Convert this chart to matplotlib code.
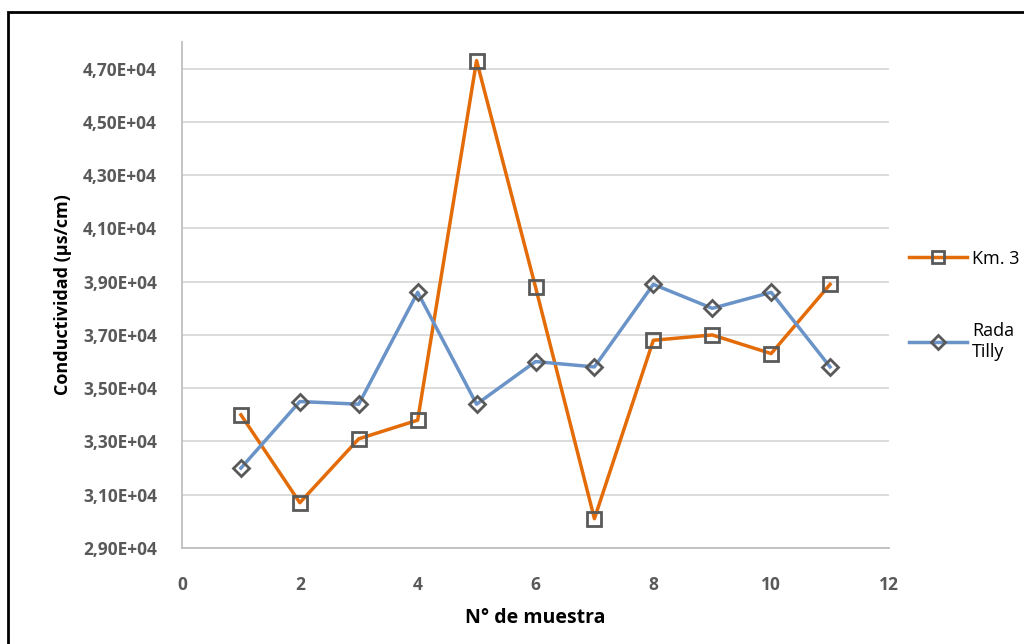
import matplotlib
matplotlib.use("Agg")
import matplotlib.pyplot as plt
from matplotlib.patches import Rectangle
from matplotlib.lines import Line2D
from matplotlib.ticker import FuncFormatter, MultipleLocator

muestra = [1, 2, 3, 4, 5, 6, 7, 8, 9, 10, 11]
km3 = [34000, 30700, 33100, 33800, 47300, 38800, 30100, 36800, 37000, 36300, 38900]
rada_tilly = [32000, 34500, 34400, 38600, 34400, 36000, 35800, 38900, 38000, 38600, 35800]

plt.rcParams['font.family'] = ['Open Sans', 'DejaVu Sans']

fig = plt.figure(figsize=(10.24, 6.44), dpi=100)
fig.patches.append(Rectangle((8 / 1024, -0.1), 1.2, 1 - 12 / 644 + 0.1,
                             transform=fig.transFigure, fill=False,
                             edgecolor='black', linewidth=2))
ax = fig.add_axes([182 / 1024, 1 - 548 / 644, (889 - 182) / 1024, (548 - 42) / 644])

orange = '#E36C09'
blue = '#6A93C8'
mk = '#595959'

ax.plot(muestra, km3, color=orange, lw=2.5, marker='s', ms=10,
        mfc='none', mec=mk, mew=2, zorder=3)
ax.plot(muestra, rada_tilly, color=blue, lw=2.5, marker='D', ms=8,
        mfc='none', mec=mk, mew=2, zorder=3)

ax.set_xlim(0, 12)
ax.set_ylim(29000, 48000)
ax.xaxis.set_major_locator(MultipleLocator(2))
ax.set_yticks(range(29000, 48000, 2000))
ax.yaxis.set_major_formatter(FuncFormatter(
    lambda v, p: f"{v / 1e4:.2f}".replace('.', ',') + "E+04"))
ax.grid(axis='y', color='#D9D9D9', lw=1.3)
ax.set_axisbelow(True)
for s in ['top', 'right']:
    ax.spines[s].set_visible(False)
ax.spines['left'].set_color('#BFBFBF')
ax.spines['bottom'].set_color('#BFBFBF')
ax.spines['left'].set_linewidth(1.3)
ax.spines['bottom'].set_linewidth(1.3)
ax.tick_params(axis='y', length=0, labelsize=12.5, labelcolor='#595959', pad=18)
ax.tick_params(axis='x', length=0, labelsize=12.5, labelcolor='#595959', pad=20)
for lab in ax.get_xticklabels() + ax.get_yticklabels():
    lab.set_fontweight('bold')

ax.set_xlabel("N° de muestra", fontsize=14, fontweight='bold', labelpad=10)
ax.set_ylabel("Conductividad (µs/cm)", fontsize=13, fontweight='bold', labelpad=8)

handles = [Line2D([], [], color=orange, lw=2.5, marker='s', ms=9, mfc='none', mec=mk, mew=2),
           Line2D([], [], color=blue, lw=2.5, marker='D', ms=7, mfc='none', mec=mk, mew=2)]
ax.legend(handles, ["Km. 3", "Rada\nTilly"], loc='center left',
          bbox_to_anchor=(1.005, 0.48), frameon=False, fontsize=13,
          handlelength=3.2, labelspacing=3.0, handletextpad=0.3)

fig.savefig("out.png", dpi=100)
